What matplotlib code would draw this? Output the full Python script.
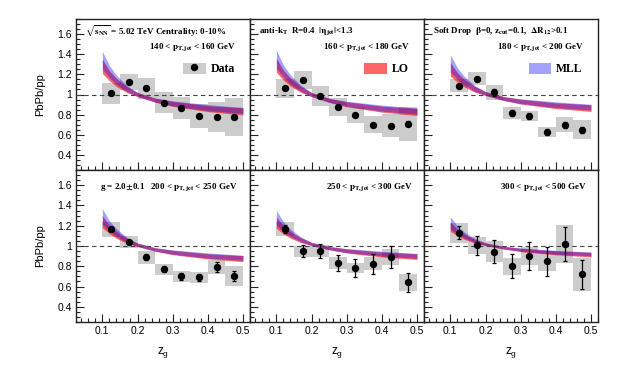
import numpy as np
import matplotlib
matplotlib.use("Agg")
import matplotlib.pyplot as plt
from matplotlib.patches import Patch
from matplotlib.lines import Line2D
from matplotlib.ticker import MultipleLocator, FuncFormatter

plt.rcParams['font.family'] = 'Liberation Sans'
plt.rcParams['mathtext.fontset'] = 'stix'
plt.rcParams['mathtext.default'] = 'bf'

# data points: z_g bin centres, one row per pT bin
zg = [0.125, 0.175, 0.225, 0.275, 0.325, 0.375, 0.425, 0.475]
vals = [
    [1.01, 1.125, 1.06, 0.92, 0.87, 0.786, 0.776, 0.78],
    [1.06, 1.14, 0.985, 0.88, 0.80, 0.70, 0.69, 0.71],
    [1.086, 1.155, 1.02, 0.82, 0.79, 0.63, 0.70, 0.65],
    [1.165, 1.04, 0.888, 0.77, 0.70, 0.69, 0.795, 0.705],
    [1.165, 0.947, 0.947, 0.835, 0.785, 0.825, 0.89, 0.64],
    [1.13, 1.005, 0.945, 0.80, 0.90, 0.85, 1.02, 0.72],
]
stat = [
    [0.01, 0.01, 0.01, 0.01, 0.01, 0.01, 0.01, 0.015],
    [0.015, 0.015, 0.015, 0.015, 0.02, 0.02, 0.02, 0.025],
    [0.02, 0.02, 0.03, 0.03, 0.03, 0.03, 0.03, 0.03],
    [0.02, 0.02, 0.03, 0.03, 0.035, 0.035, 0.05, 0.05],
    [0.04, 0.06, 0.07, 0.08, 0.09, 0.10, 0.11, 0.09],
    [0.065, 0.095, 0.11, 0.12, 0.14, 0.145, 0.17, 0.14],
]
syst = [
    [0.10, 0.08, 0.10, 0.10, 0.11, 0.12, 0.15, 0.19],
    [0.095, 0.09, 0.10, 0.09, 0.08, 0.085, 0.115, 0.17],
    [0.066, 0.065, 0.07, 0.06, 0.05, 0.05, 0.075, 0.095],
    [0.075, 0.06, 0.065, 0.055, 0.055, 0.053, 0.07, 0.095],
    [0.07, 0.055, 0.06, 0.06, 0.05, 0.065, 0.08, 0.08],
    [0.10, 0.085, 0.10, 0.085, 0.09, 0.10, 0.185, 0.16],
]

# theory bands (LO / MLL)
zth = [0.10, 0.12, 0.14, 0.17, 0.20, 0.25, 0.30, 0.40, 0.50]
th_center = [
    [1.28, 1.187, 1.12, 1.049, 1.0, 0.944, 0.907, 0.86, 0.832],
    [1.29, 1.193, 1.124, 1.051, 1.0, 0.942, 0.903, 0.855, 0.826],
    [1.25, 1.17, 1.112, 1.051, 1.01, 0.961, 0.929, 0.889, 0.865],
    [1.24, 1.164, 1.110, 1.052, 1.012, 0.966, 0.936, 0.898, 0.875],
    [1.23, 1.160, 1.110, 1.057, 1.020, 0.979, 0.951, 0.916, 0.895],
    [1.19, 1.133, 1.092, 1.048, 1.018, 0.984, 0.961, 0.932, 0.915],
]
lo_half = [0.07, 0.05, 0.04, 0.03, 0.02, 0.02, 0.025, 0.03, 0.035]
mll_shift = [0.06, 0.04, 0.025, 0.01, 0.0, 0.0, 0.005, 0.01, 0.01]
mll_half = [0.09, 0.06, 0.045, 0.03, 0.02, 0.02, 0.025, 0.03, 0.03]
width_scale = [1.0, 1.0, 0.95, 0.85, 0.8, 0.65]

pt_labels = [
    r'140 < $p_{T,jet}$ < 160 GeV',
    r'160 < $p_{T,jet}$ < 180 GeV',
    r'180 < $p_{T,jet}$ < 200 GeV',
    r'g = 2.0$\pm$0.1   200 < $p_{T,jet}$ < 250 GeV',
    r'250 < $p_{T,jet}$ < 300 GeV',
    r'300 < $p_{T,jet}$ < 500 GeV',
]
header_labels = [
    r'$\sqrt{s_{NN}}$ = 5.02 TeV Centrality: 0-10%',
    r'anti-$k_T$  R=0.4  $|\eta_{jet}|$<1.3',
    r'Soft Drop  $\beta$=0, $z_{cut}$=0.1,  $\Delta R_{12}$>0.1',
]

lo_color = (1.0, 0.0, 0.0, 0.6)
mll_color = (0.0, 0.0, 1.0, 0.36)
box_color = '#cccccc'
serif = 'Liberation Serif'

W, H = 630, 379
fig = plt.figure(figsize=(6.3, 3.79), dpi=100)

x0s = [76, 250, 424]
rows = [(19, 170), (170, 322)]
axes = []
for r, (ytop, ybot) in enumerate(rows):
    for c, x0 in enumerate(x0s):
        ax = fig.add_axes([x0 / W, 1 - ybot / H, 174 / W, (ybot - ytop) / H])
        axes.append(ax)

zth_a = np.array(zth)
for i, ax in enumerate(axes):
    r, c = divmod(i, 3)
    v = np.array(vals[i])
    s = np.array(syst[i])
    ax.bar(zg, 2 * s, bottom=v - s, width=0.05, color=box_color, zorder=1)

    cen = np.array(th_center[i])
    k = width_scale[i]
    lh = np.array(lo_half) * k
    mc = cen + np.array(mll_shift) * k
    mh = np.array(mll_half) * k
    ax.fill_between(zth_a, cen - lh, cen + lh, color=lo_color, lw=0, zorder=2)
    ax.fill_between(zth_a, mc - mh, mc + mh, color=mll_color, lw=0, zorder=3)

    ax.axhline(1.0, color='#444444', ls=(0, (4, 3)), lw=0.8, zorder=4)
    ax.errorbar(zg, v, yerr=stat[i], fmt='o', color='black', ms=4.3,
                elinewidth=0.9, capsize=1.5, capthick=0.9, zorder=5)

    ax.set_xlim(0.025, 0.52)
    ax.set_ylim(0.25, 1.75)
    ax.xaxis.set_major_locator(MultipleLocator(0.1))
    ax.xaxis.set_minor_locator(MultipleLocator(0.02))
    ax.yaxis.set_major_locator(MultipleLocator(0.2))
    ax.yaxis.set_minor_locator(MultipleLocator(0.05))
    ax.tick_params(which='both', direction='in', top=False, right=False,
                   labelsize=7.5, pad=3, width=0.8, color='#222222')
    ax.tick_params(which='major', length=6)
    ax.tick_params(which='minor', length=3)
    for sp in ax.spines.values():
        sp.set_linewidth(1.0)
        sp.set_color('#222222')
    ax.yaxis.set_major_formatter(FuncFormatter(lambda y, p: '%g' % round(y, 2)))
    ax.xaxis.set_major_formatter(FuncFormatter(lambda x, p: '%g' % round(x, 2)))
    if c != 0:
        ax.set_yticklabels([])
    if r == 0:
        ax.set_xticklabels([])

    # texts
    if r == 0:
        ax.text(0.05, 0.92, header_labels[c], transform=ax.transAxes,
                fontsize=6.5, family=serif, weight='bold', va='center', ha='left')
        ax.text(0.92, 0.805, pt_labels[i], transform=ax.transAxes,
                fontsize=6.5, family=serif, weight='bold', va='center', ha='right')
    else:
        ha = 'left' if c == 0 else 'right'
        xx = 0.14 if c == 0 else 0.94
        ax.text(xx, 0.88, pt_labels[i], transform=ax.transAxes,
                fontsize=6.5, family=serif, weight='bold', va='center', ha=ha)

# legends
leg_handles = [
    (Patch(facecolor=box_color, edgecolor='none'),
     Line2D([], [], marker='o', color='black', ls='none', ms=4.3)),
    Patch(facecolor=lo_color, edgecolor='none'),
    Patch(facecolor=mll_color, edgecolor='none'),
]
leg_labels = ['Data', 'LO', 'MLL']
for c in range(3):
    axes[c].legend([leg_handles[c]], [leg_labels[c]], loc='upper right',
                   bbox_to_anchor=(0.945, 0.75), frameon=False, borderpad=0,
                   handlelength=1.9, handleheight=1.1, handletextpad=0.4,
                   prop={'family': serif, 'weight': 'bold', 'size': 8.5})

for ytop, ybot in rows:
    fig.text(40 / W, 1 - (ytop + ybot) / 2 / H, 'PbPb/pp', rotation=90,
             ha='center', va='center', fontsize=8)
for x0 in x0s:
    fig.text((x0 + 87) / W, 1 - 352 / H, '$\\mathregular{z_g}$', ha='center',
             va='center', fontsize=8.5)

fig.savefig('out.png', dpi=100)
